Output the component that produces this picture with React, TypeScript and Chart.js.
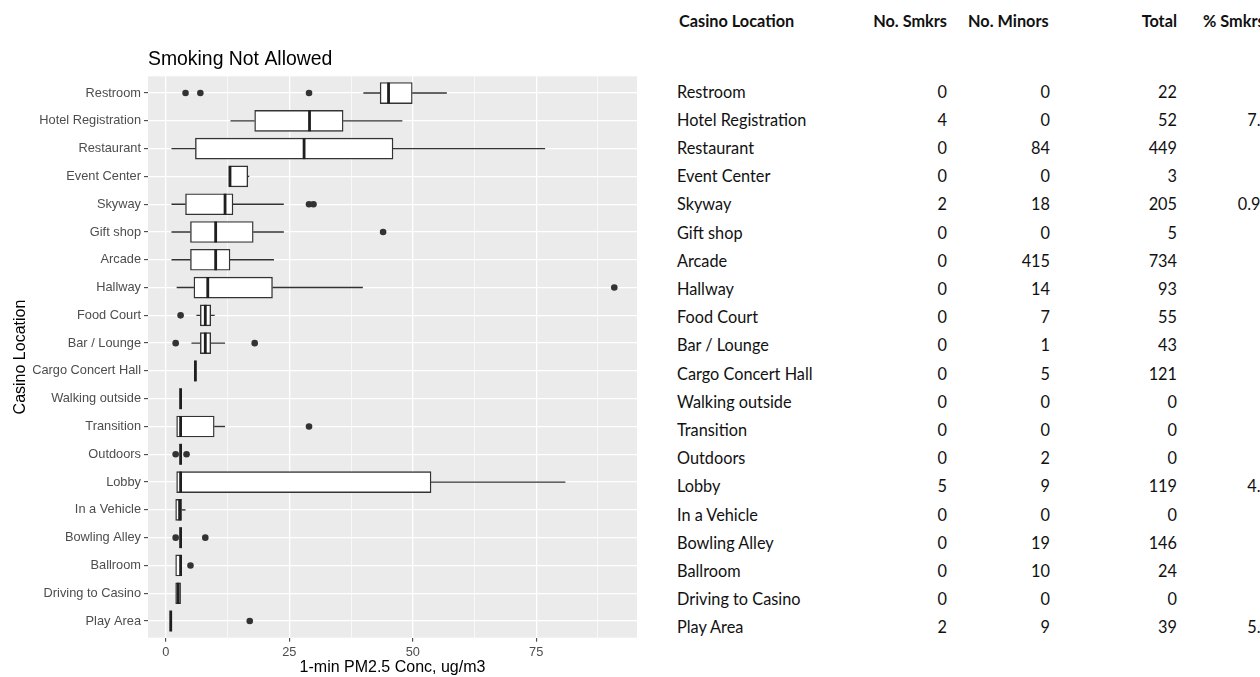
import React, { useEffect, useRef } from "react";
import { Chart, registerables } from "chart.js";

Chart.register(...registerables);

// ---------- Box plot data (top to bottom) ----------
const locations = [
  "Restroom",
  "Hotel Registration",
  "Restaurant",
  "Event Center",
  "Skyway",
  "Gift shop",
  "Arcade",
  "Hallway",
  "Food Court",
  "Bar / Lounge",
  "Cargo Concert Hall",
  "Walking outside",
  "Transition",
  "Outdoors",
  "Lobby",
  "In a Vehicle",
  "Bowling Alley",
  "Ballroom",
  "Driving to Casino",
  "Play Area",
];
const whiskerLow = [40, 13.1, 1.15, 12.8, 1.15, 1.15, 1.15, 2.2, 6.2, 5.2, 6, 3, 2.2, 3, 2.2, 2.0, 3, 2.0, 2.0, 1];
const q1 = [43.4, 18.0, 6.0, 12.8, 4.0, 5.0, 5.0, 5.7, 7.0, 7.0, 6, 3, 2.2, 3, 2.2, 2.0, 3, 2.0, 2.0, 1];
const median = [45.1, 29.1, 28.0, 13.0, 12.0, 10.1, 10.1, 8.5, 8.0, 8.0, 6, 3, 3.0, 3, 3.0, 2.8, 3, 3.0, 2.5, 1];
const q3 = [49.9, 35.9, 46.0, 16.6, 13.6, 17.7, 13.0, 21.6, 9.1, 9.1, 6, 3, 9.8, 3, 53.7, 3.2, 3, 3.2, 3.0, 1];
const whiskerHigh = [56.9, 47.9, 76.8, 16.9, 23.9, 23.9, 21.9, 39.9, 9.9, 12.0, 6, 3, 12.0, 3, 80.9, 4.0, 3, 3.2, 3.0, 1];
const outliers: number[][] = [
  [4, 7, 29],
  [],
  [],
  [],
  [29, 29.9],
  [44],
  [],
  [90.8],
  [3],
  [2, 18],
  [],
  [],
  [29],
  [2, 4.2],
  [],
  [],
  [2, 8],
  [5],
  [],
  [17],
];
const xMajorTicks = [0, 25, 50, 75];
const xMinorTicks = [12.5, 37.5, 62.5, 87.5];

// ---------- Table data ----------
const tableHeaders = ["Casino Location", "No. Smkrs", "No. Minors", "Total", "% Smkrs"];
const smokers = [0, 4, 0, 0, 2, 0, 0, 0, 0, 0, 0, 0, 0, 0, 5, 0, 0, 0, 0, 2];
const minors = [0, 0, 84, 0, 18, 0, 415, 14, 7, 1, 5, 0, 0, 2, 9, 0, 19, 10, 0, 9];
const totals = [22, 52, 449, 3, 205, 5, 734, 93, 55, 43, 121, 0, 0, 0, 119, 0, 146, 24, 0, 39];
const pctSmk = ["", "7.7", "", "", "0.98", "", "", "", "", "", "", "", "", "", "4.2", "", "", "", "", "5.1"];

const AXIS_FONT = '"Liberation Sans", Arial, sans-serif';
const TABLE_FONT = 'Lato, "Open Sans", sans-serif';

const panelBg = {
  id: "panelBg",
  beforeDraw(chart: any) {
    const { ctx, chartArea: a } = chart;
    ctx.save();
    ctx.fillStyle = "#EBEBEB";
    ctx.fillRect(a.left, a.top, a.right - a.left, a.bottom - a.top);
    ctx.restore();
  },
};

const boxParts = {
  id: "boxParts",
  beforeDatasetsDraw(chart: any) {
    const { ctx } = chart;
    const xs = chart.scales.x;
    const ys = chart.scales.y;
    ctx.save();
    ctx.strokeStyle = "#333333";
    ctx.lineWidth = 1.4;
    locations.forEach((_, i) => {
      const py = ys.getPixelForValue(i);
      ctx.beginPath();
      ctx.moveTo(xs.getPixelForValue(whiskerLow[i]), py);
      ctx.lineTo(xs.getPixelForValue(q1[i]), py);
      ctx.moveTo(xs.getPixelForValue(q3[i]), py);
      ctx.lineTo(xs.getPixelForValue(whiskerHigh[i]), py);
      ctx.stroke();
    });
    ctx.restore();
  },
  afterDatasetsDraw(chart: any) {
    const { ctx } = chart;
    const xs = chart.scales.x;
    const ys = chart.scales.y;
    const meta = chart.getDatasetMeta(0);
    ctx.save();
    ctx.strokeStyle = "#1f1f1f";
    ctx.lineWidth = 2.8;
    locations.forEach((_, i) => {
      const bar = meta.data[i];
      const half = bar ? bar.height / 2 : 10.5;
      const py = ys.getPixelForValue(i);
      const px = xs.getPixelForValue(median[i]);
      ctx.beginPath();
      ctx.moveTo(px, py - half);
      ctx.lineTo(px, py + half);
      ctx.stroke();
    });
    ctx.restore();
  },
};

function BoxChart() {
  const ref = useRef<HTMLCanvasElement | null>(null);
  useEffect(() => {
    if (!ref.current) return;
    const chart = new Chart(ref.current, {
      type: "bar",
      data: {
        datasets: [
          {
            type: "bar",
            indexAxis: "y",
            data: locations.map((_, i) => ({ x: [q1[i], q3[i]], y: i })),
            backgroundColor: "#FFFFFF",
            borderColor: "#333333",
            borderWidth: 1.4,
            borderSkipped: false,
            barThickness: 21,
            grouped: false,
          } as any,
          {
            type: "scatter",
            data: outliers.flatMap((vals, i) => vals.map((v) => ({ x: v, y: i }))),
            backgroundColor: "#333333",
            borderWidth: 0,
            pointRadius: 3.3,
          } as any,
        ],
      },
      options: {
        animation: false,
        responsive: false,
        events: [],
        layout: { padding: { top: 0, left: 0, right: 13, bottom: 0 } },
        plugins: {
          legend: { display: false },
          tooltip: { enabled: false },
          title: {
            display: true,
            text: "Smoking Not Allowed",
            align: "start",
            fullSize: false,
            color: "#000000",
            font: { family: AXIS_FONT, size: 19.4, weight: "normal" },
            padding: { top: 48, bottom: 5.1 },
          },
        },
        scales: {
          x: {
            type: "linear",
            offset: false,
            min: -3.6,
            max: 95.4,
            afterBuildTicks: (s: any) => {
              s.ticks = [...xMajorTicks, ...xMinorTicks].sort((a, b) => a - b).map((v) => ({ value: v }));
            },
            afterFit: (s: any) => {
              s.height = 39.3;
            },
            ticks: {
              autoSkip: false,
              maxRotation: 0,
              padding: 3,
              color: "#4D4D4D",
              font: { family: AXIS_FONT, size: 12.8 },
              callback: (v: any) => (xMajorTicks.includes(Number(v)) ? String(v) : ""),
            },
            grid: {
              offset: false,
              color: "#FFFFFF",
              lineWidth: (c: any) => (c.tick && xMajorTicks.includes(c.tick.value) ? 1.3 : 0.65),
              tickColor: (c: any) => (c.tick && xMajorTicks.includes(c.tick.value) ? "#333333" : "rgba(0,0,0,0)"),
              tickWidth: 1,
              tickLength: 4,
            },
            border: { display: false },
            title: {
              display: true,
              text: "1-min PM2.5 Conc, ug/m3",
              color: "#000000",
              font: { family: AXIS_FONT, size: 16 },
              padding: { top: 0, bottom: 0 },
            },
          },
          y: {
            type: "linear",
            offset: false,
            min: -0.6,
            max: locations.length - 0.4,
            reverse: true,
            afterBuildTicks: (s: any) => {
              s.ticks = locations.map((_, i) => ({ value: i }));
            },
            afterFit: (s: any) => {
              s.width = 148;
            },
            ticks: {
              autoSkip: false,
              padding: 3,
              color: "#4D4D4D",
              font: { family: AXIS_FONT, size: 12.8 },
              callback: (v: any) => locations[Number(v)] ?? "",
            },
            grid: {
              offset: false,
              color: "#FFFFFF",
              lineWidth: 1.3,
              tickColor: "#333333",
              tickWidth: 1,
              tickLength: 4,
            },
            border: { display: false },
            title: {
              display: true,
              text: "Casino Location",
              color: "#000000",
              font: { family: AXIS_FONT, size: 16 },
              padding: { top: 11, bottom: 0 },
            },
          },
        },
      } as any,
      plugins: [panelBg, boxParts],
    });
    return () => chart.destroy();
  }, []);
  return <canvas ref={ref} width={650} height={677} style={{ position: "absolute", left: 0, top: 0 }} />;
}

// table layout
const ROW0_Y = 91.5;
const ROW_STEP = 28.2;
const HEADER_Y = 21;

function Cell(props: { text: string | number; y: number; left?: number; right?: number; bold?: boolean }) {
  const style: any = {
    position: "absolute",
    top: props.y - 14,
    height: 28,
    lineHeight: "28px",
    whiteSpace: "nowrap",
    fontFamily: TABLE_FONT,
    fontSize: 16.3,
    fontWeight: props.bold ? 700 : 400,
    color: "#111111",
  };
  if (props.left !== undefined) style.left = props.left;
  if (props.right !== undefined) style.right = 1260 - props.right;
  return <div style={style}>{props.text}</div>;
}

function Table() {
  return (
    <div>
      <Cell text={tableHeaders[0]} y={HEADER_Y} left={679} bold />
      <Cell text={tableHeaders[1]} y={HEADER_Y} right={947} bold />
      <Cell text={tableHeaders[2]} y={HEADER_Y} left={968} bold />
      <Cell text={tableHeaders[3]} y={HEADER_Y} right={1177} bold />
      <Cell text={tableHeaders[4]} y={HEADER_Y} left={1203} bold />
      {locations.map((loc, i) => {
        const y = ROW0_Y + i * ROW_STEP;
        return (
          <React.Fragment key={loc}>
            <Cell text={loc} y={y} left={677} />
            <Cell text={smokers[i]} y={y} right={947} />
            <Cell text={minors[i]} y={y} right={1050} />
            <Cell text={totals[i]} y={y} right={1177} />
            {pctSmk[i] ? <Cell text={pctSmk[i]} y={y} right={1270} /> : null}
          </React.Fragment>
        );
      })}
    </div>
  );
}

export default function App() {
  return (
    <div
      style={{
        position: "fixed",
        left: 0,
        top: 0,
        width: 1260,
        height: 677,
        overflow: "hidden",
        background: "#FFFFFF",
      }}
    >
      <BoxChart />
      <Table />
    </div>
  );
}
